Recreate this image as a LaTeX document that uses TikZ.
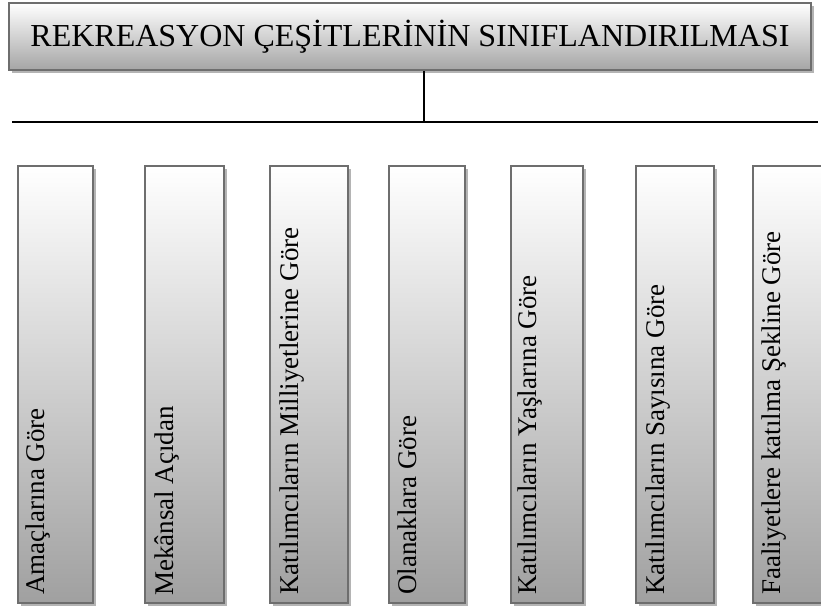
\documentclass[tikz,border=0pt]{standalone}
\usepackage{fontspec}
\setmainfont{Liberation Serif}
\usetikzlibrary{shadows}
\definecolor{bordergray}{RGB}{110,110,110}
\definecolor{shadowgray}{RGB}{180,180,180}
\definecolor{boxbottom}{RGB}{160,160,160}
\definecolor{titlebottom}{RGB}{165,165,165}
\tikzset{
  gradbox/.style={rectangle, draw=bordergray, line width=2pt, top color=white, bottom color=boxbottom,
    drop shadow={shadow xshift=3pt, shadow yshift=-3pt, fill=shadowgray, opacity=1}, inner sep=0pt},
  lbl/.style={font=\fontsize{27}{30}\selectfont, rotate=90, anchor=base west, inner sep=0pt, text=black},
  conn/.style={line width=1.4pt, black},
}
\begin{document}
\begin{tikzpicture}[x=1pt, y=1pt]
\useasboundingbox (0,0) rectangle (821,-607);
\begin{scope}
\clip (0,0) rectangle (821,-607);
% title
\node[gradbox, bottom color=titlebottom, minimum width=802pt, minimum height=67pt,
      font=\fontsize{32}{36}\selectfont] (title) at (410,-36.5) {REKREASYON ÇEŞİTLERİNİN SINIFLANDIRILMASI};
% connectors
\coordinate (stem) at (424,-122);
\coordinate (hl) at (12,-122);
\coordinate (hr) at (818,-122);
\draw[conn] (stem |- title.south) -- (stem);
\draw[conn] (hl) -- (hr);
% boxes
\node[gradbox, minimum width=75pt, minimum height=437pt] (b1) at (55.5,-384.5) {};
\node[gradbox, minimum width=79pt, minimum height=437pt] (b2) at (184.5,-384.5) {};
\node[gradbox, minimum width=78pt, minimum height=437pt] (b3) at (309,-384.5) {};
\node[gradbox, minimum width=76pt, minimum height=437pt] (b4) at (427,-384.5) {};
\node[gradbox, minimum width=72pt, minimum height=437pt] (b5) at (547,-384.5) {};
\node[gradbox, minimum width=78pt, minimum height=437pt] (b6) at (675,-384.5) {};
\node[gradbox, minimum width=76pt, minimum height=437pt] (b7) at (791,-384.5) {};
% labels
\node[lbl, xshift=9pt, yshift=11pt] (t1) at (b1.south) {Amaçlarına Göre};
\node[lbl, xshift=8pt, yshift=11pt] (t2) at (b2.south) {Mekânsal Açıdan};
\node[lbl, xshift=9pt, yshift=11pt] (t3) at (b3.south) {Katılımcıların Milliyetlerine Göre};
\node[lbl, xshift=9pt, yshift=11pt] (t4) at (b4.south) {Olanaklara Göre};
\node[lbl, xshift=9pt, yshift=11pt] (t5) at (b5.south) {Katılımcıların Yaşlarına Göre};
\node[lbl, xshift=9pt, yshift=11pt] (t6) at (b6.south) {Katılımcıların Sayısına Göre};
\node[lbl, xshift=9pt, yshift=11pt] (t7) at (b7.south) {Faaliyetlere katılma Şekline Göre};
\end{scope}
\end{tikzpicture}
\end{document}
